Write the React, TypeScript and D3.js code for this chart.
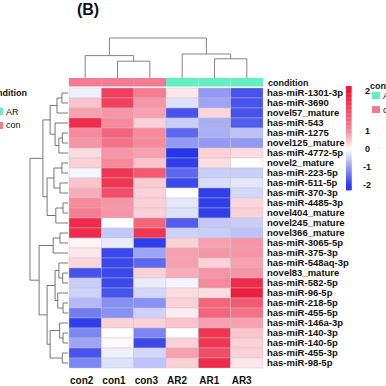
import React from 'react';
import * as d3 from 'd3';

// samples, in heatmap column order
const columns = ['con2', 'con1', 'con3', 'AR2', 'AR1', 'AR3'];
const conditions = ['con', 'con', 'con', 'AR', 'AR', 'AR'];
const conditionLevels = ['AR', 'con'];
const conditionColors = { AR: '#64efc2', con: '#f47a92' };

const genes = [
  'has-miR-1301-3p', 'has-miR-3690', 'novel57_mature', 'has-miR-543', 'has-miR-1275',
  'novel125_mature', 'has-miR-4772-5p', 'novel2_mature', 'has-miR-223-5p', 'has-miR-511-5p',
  'has-miR-370-3p', 'has-miR-4485-3p', 'novel404_mature', 'novel245_mature', 'novel366_mature',
  'has-miR-3065-5p', 'has-miR-375-3p', 'has-miR-548aq-3p', 'novel83_mature', 'has-miR-582-5p',
  'has-miR-96-5p', 'has-miR-218-5p', 'has-miR-455-5p', 'has-miR-146a-3p', 'has-miR-140-3p',
  'has-miR-140-5p', 'has-miR-455-3p', 'has-miR-98-5p',
];

// scaled expression, one row per gene (con2, con1, con3, AR2, AR1, AR3)
const expr = [
  [-0.15, 1.6, 1.1, 0.2, -1.0, -1.7],
  [0.5, 1.6, 0.9, -0.3, -0.9, -1.7],
  [0.8, 0.9, 0.8, -1.7, 0.35, -1.7],
  [1.8, 1.0, 0.4, -0.5, -0.8, -1.6],
  [1.0, 1.3, 1.0, -1.5, -0.8, -0.6],
  [0.9, 1.2, 1.0, -1.0, -1.0, -1.0],
  [0.3, 0.9, 0.8, -2.0, 0.4, 0.3],
  [0.4, 1.0, 0.5, -1.9, 0.3, 0.0],
  [-0.1, 1.7, 1.4, -1.5, -0.5, -0.5],
  [0.5, 1.7, 0.45, -1.8, -0.35, -0.25],
  [0.7, 1.5, 0.4, 0.0, -1.9, -0.4],
  [1.0, 0.9, 0.4, -0.25, -1.9, 0.35],
  [1.1, 0.9, 0.4, -0.3, -1.9, 0.4],
  [1.8, 0.0, 1.3, -1.6, -0.55, -0.5],
  [1.8, -0.55, 1.7, -0.45, -0.5, -0.6],
  [0.1, -0.2, -1.9, 0.4, 0.8, 0.9],
  [0.2, -1.8, -0.9, 0.8, 0.9, 0.9],
  [0.35, -1.8, -1.5, 0.8, 0.4, 0.8],
  [-1.7, -1.8, 0.4, 0.7, 0.9, 0.9],
  [-0.5, -1.8, -0.2, -0.1, 1.0, 1.8],
  [-0.45, -1.7, -0.4, 0.3, 0.3, 1.9],
  [-0.7, -1.1, -1.1, 0.4, 1.3, 1.4],
  [-1.3, -1.1, -0.45, 0.15, 1.3, 1.2],
  [-1.9, 0.4, 0.4, 0.5, 0.8, 0.8],
  [-1.2, 0.0, -1.2, 0.0, 1.7, 0.5],
  [-0.9, 0.05, -1.8, 0.4, 1.7, 0.4],
  [-1.7, -0.15, -0.4, 0.8, 1.5, 0.4],
  [-1.2, -0.3, -0.6, 0.4, 1.8, 0.2],
];

const legendTicks = [2, 1, 0, -1, -2];

// clustering trees: leaf = index, node = merge height + two children
type Node = number | { h: number; c: [Node, Node] };

const colTree: Node = {
  h: 10,
  c: [
    { h: 5.6, c: [0, { h: 4.2, c: [1, 2] }] },
    { h: 6.0, c: [3, { h: 4.8, c: [4, 5] }] },
  ],
};

const rowTree: Node = {
  h: 10,
  c: [
    {
      h: 6.6,
      c: [
        {
          h: 4.7,
          c: [
            { h: 2.9, c: [{ h: 1.6, c: [0, 1] }, 2] },
            { h: 3.4, c: [3, { h: 2.4, c: [{ h: 1.5, c: [4, 5] }, 6] }] },
          ],
        },
        {
          h: 5.5,
          c: [
            { h: 3.7, c: [{ h: 1.6, c: [7, 8] }, { h: 2.1, c: [9, 10] }] },
            { h: 3.2, c: [{ h: 1.3, c: [11, 12] }, 13] },
          ],
        },
      ],
    },
    {
      h: 7.6,
      c: [
        { h: 3.9, c: [{ h: 2.1, c: [14, 15] }, 16] },
        {
          h: 5.5,
          c: [
            {
              h: 3.4,
              c: [
                { h: 2.4, c: [17, { h: 1.4, c: [18, 19] }] },
                { h: 2.7, c: [20, { h: 1.3, c: [21, 22] }] },
              ],
            },
            {
              h: 4.7,
              c: [
                { h: 2.2, c: [23, { h: 1.3, c: [24, 25] }] },
                { h: 1.5, c: [26, 27] },
              ],
            },
          ],
        },
      ],
    },
  ],
};

type Seg = [number, number, number, number]; // pos1, h1, pos2, h2

function elbows(node: Node, leafPos: (i: number) => number, segs: Seg[]): { p: number; h: number } {
  if (typeof node === 'number') return { p: leafPos(node), h: 0 };
  const a = elbows(node.c[0], leafPos, segs);
  const b = elbows(node.c[1], leafPos, segs);
  segs.push([a.p, a.h, a.p, node.h]);
  segs.push([b.p, b.h, b.p, node.h]);
  segs.push([a.p, node.h, b.p, node.h]);
  return { p: (a.p + b.p) / 2, h: node.h };
}

export default function App() {
  const W = 386;
  const H = 386;

  const x = d3.scaleBand().domain(columns).range([69, 263]);
  const y = d3.scaleBand().domain(genes).range([88, 368]);
  const color = d3
    .scaleLinear<string>()
    .domain([-2, 0, 2])
    .range(['#2535ea', '#ffffff', '#ee1236'])
    .clamp(true);

  const colH = d3.scaleLinear().domain([0, 10]).range([78, 38]);
  const rowH = d3.scaleLinear().domain([0, 10]).range([68, 30]);

  const colSegs: Seg[] = [];
  elbows(colTree, (i) => (x(columns[i]) as number) + x.bandwidth() / 2, colSegs);
  const rowSegs: Seg[] = [];
  elbows(rowTree, (i) => (y(genes[i]) as number) + y.bandwidth() / 2, rowSegs);

  // colour key
  const legY = d3.scaleLinear().domain([-2.3, -2, -1, 0, 1, 2, 2.2]).range([190, 185, 167, 149, 131, 91, 86]);
  const legVals = d3.range(-2.3, 2.2, 0.02);

  const font = '"Liberation Sans", Arial, sans-serif';

  return (
    <svg
      width={W}
      height={H}
      style={{ position: 'absolute', left: 0, top: 0, background: '#fff' }}
      fontFamily={font}
    >
      <text x={88} y={15} textAnchor="middle" fontSize={16} fontWeight="bold" fill="#111">
        (B)
      </text>

      {/* column dendrogram */}
      <g stroke="#666" strokeWidth={0.8} fill="none">
        {colSegs.map((s, i) => (
          <line key={i} x1={s[0]} y1={colH(s[1])} x2={s[2]} y2={colH(s[3])} />
        ))}
      </g>

      {/* row dendrogram */}
      <g stroke="#555" strokeWidth={0.8} fill="none">
        {rowSegs.map((s, i) => (
          <line key={i} x1={rowH(s[1])} y1={s[0]} x2={rowH(s[3])} y2={s[2]} />
        ))}
      </g>

      {/* condition annotation */}
      {columns.map((c, i) => (
        <rect
          key={c}
          x={x(c)}
          y={78}
          width={x.bandwidth()}
          height={8.5}
          fill={conditionColors[conditions[i] as 'AR' | 'con']}
        />
      ))}
      <text x={268} y={86} fontSize={9} fontWeight="bold" fill="#111">
        condition
      </text>

      {/* heatmap cells */}
      <g stroke="#c4c4c4" strokeWidth={0.4}>
        {expr.map((row, r) =>
          row.map((v, c) => (
            <rect
              key={`${r}-${c}`}
              x={x(columns[c])}
              y={y(genes[r])}
              width={x.bandwidth()}
              height={y.bandwidth()}
              fill={color(v)}
            />
          ))
        )}
      </g>

      {/* row labels */}
      {genes.map((g) => (
        <text
          key={g}
          x={267}
          y={(y(g) as number) + y.bandwidth() / 2}
          dy="0.35em"
          fontSize={9.5}
          fontWeight="bold"
          fill="#111"
        >
          {g}
        </text>
      ))}

      {/* column labels */}
      {columns.map((c) => (
        <text key={c} x={(x(c) as number) + 1} y={384} fontSize={10} fontWeight="bold" fill="#111">
          {c}
        </text>
      ))}

      {/* colour key */}
      {legVals.map((v, i) => (
        <rect
          key={i}
          x={346}
          y={legY(v + 0.02)}
          width={5.5}
          height={Math.abs(legY(v) - legY(v + 0.02)) + 0.4}
          fill={color(v)}
        />
      ))}
      {legendTicks.map((t) => (
        <text key={t} x={t < 0 ? 363 : 365} y={legY(t)} dy="0.35em" fontSize={9} fontWeight="bold" fill="#111">
          {t}
        </text>
      ))}

      {/* condition legend, right (cut by the frame) */}
      <text x={370} y={89} fontSize={9} fontWeight="bold" fill="#111">
        condition
      </text>
      {conditionLevels.map((l, i) => (
        <g key={l}>
          <rect x={372} y={92 + i * 14} width={8} height={7} fill={conditionColors[l as 'AR' | 'con']} />
          <text x={383} y={99 + i * 14} fontSize={9} fill="#111">
            {l}
          </text>
        </g>
      ))}

      {/* condition legend, left (from neighbouring panel, cut by the frame) */}
      <text x={27} y={96} textAnchor="end" fontSize={9} fontWeight="bold" fill="#111">
        condition
      </text>
      {conditionLevels.map((l, i) => (
        <g key={l}>
          <rect x={-6} y={108 + i * 14} width={9} height={7} fill={conditionColors[l as 'AR' | 'con']} />
          <text x={6} y={115 + i * 13} fontSize={9} fill="#111">
            {l}
          </text>
        </g>
      ))}
    </svg>
  );
}
